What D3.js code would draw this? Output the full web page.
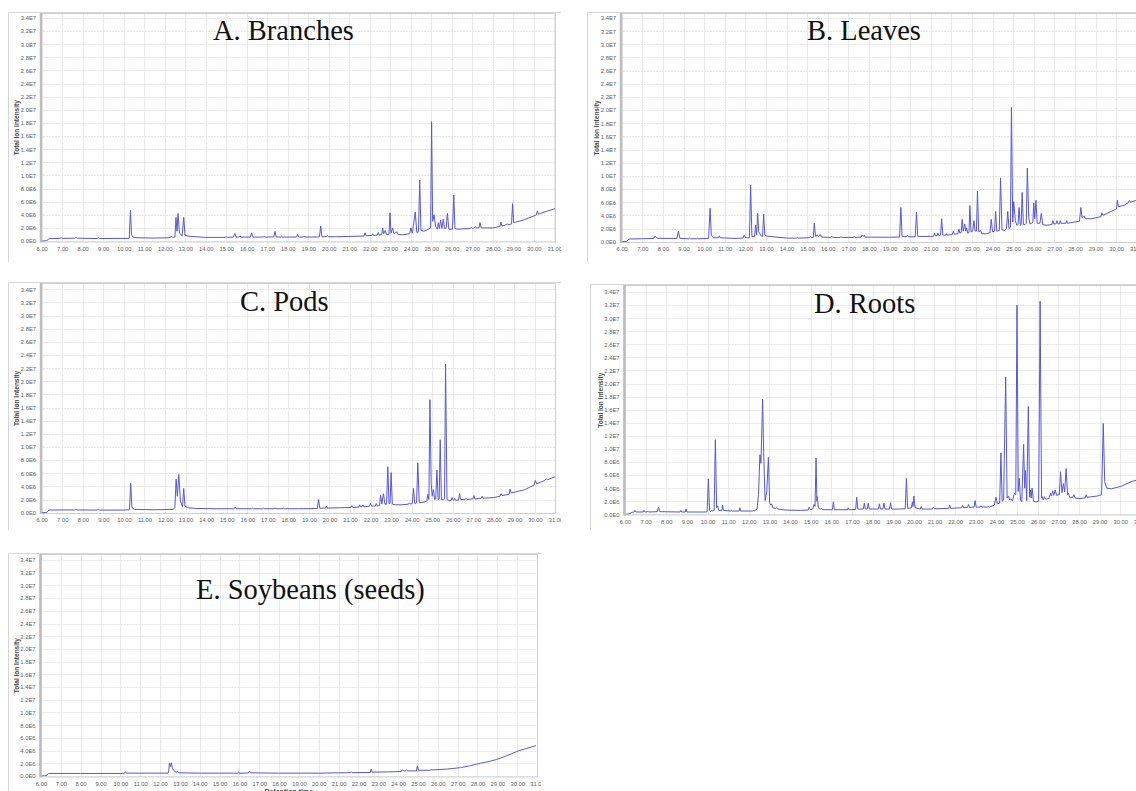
<!DOCTYPE html>
<html>
<head>
<meta charset="utf-8">
<script src="https://cdn.jsdelivr.net/npm/d3@7"></script>
<style>
  body { margin: 0; background: #fff; }
  svg { display: block; }
</style>
</head>
<body>
<div id="container"></div>
<script>
/* DATA: [retention time (min), total ion intensity (x1E6)] */
const titles = ["A. Branches", "B. Leaves", "C. Pods", "D. Roots", "E. Soybeans (seeds)"];
const xTicks = [6, 7, 8, 9, 10, 11, 12, 13, 14, 15, 16, 17, 18, 19, 20, 21, 22, 23, 24, 25, 26, 27, 28, 29, 30, 31];
const yTicks = [0, 2, 4, 6, 8, 10, 12, 14, 16, 18, 20, 22, 24, 26, 28, 30, 32, 34];
const yTitle = "Total Ion Intensity";
const xTitle = "Retention time";

const branches = [[6.0,0],[6.25,0.05],[6.35,0.35],[6.9,0.4],[6.95,0.5],[7.0,0.4],[7.6,0.42],[7.67,0.55],[7.75,0.42],[8.7,0.38],[8.76,0.5],[8.82,0.38],
  [10.27,0.4],[10.33,4.7],[10.38,1.0],[10.45,0.6],[10.6,0.5],[11.5,0.45],[12.25,0.5],[12.32,0.75],[12.38,0.55],[12.5,0.6],[12.55,3.6],[12.6,1.5],[12.65,4.2],[12.72,1.2],[12.85,0.8],[12.93,3.6],[12.99,0.9],[13.1,0.75],[13.5,0.65],[14.0,0.55],
  [14.95,0.55],[15.0,0.65],[15.05,0.55],[15.35,0.6],[15.42,1.15],[15.48,0.6],[15.62,0.6],[15.67,0.8],[15.72,0.6],[16.18,0.6],[16.24,1.25],[16.3,0.6],[16.8,0.6],[16.85,0.7],[16.9,0.6],
  [17.32,0.62],[17.38,1.45],[17.44,0.62],[17.65,0.6],[17.7,0.75],[17.75,0.6],[18.43,0.6],[18.48,1.0],[18.53,0.6],[18.77,0.6],[18.81,0.77],[18.86,0.6],[19.55,0.62],[19.61,2.3],[19.67,0.65],
  [19.88,0.65],[19.93,0.85],[19.98,0.65],[20.32,0.65],[20.36,0.72],[20.4,0.65],[21.0,0.7],[21.72,0.75],[21.77,1.25],[21.82,0.8],[22.1,0.85],[22.15,1.1],[22.2,0.85],[22.38,0.9],[22.42,1.3],[22.46,0.9],
  [22.59,1.0],[22.63,2.0],[22.68,1.1],[22.76,1.6],[22.82,1.0],[22.94,1.0],[22.99,4.3],[23.04,1.2],[23.12,2.0],[23.18,1.1],[23.32,1.4],[23.38,1.0],[23.6,0.95],[23.95,1.1],[24.01,2.0],[24.08,1.2],
  [24.22,4.4],[24.3,1.3],[24.38,1.4],[24.44,9.3],[24.5,1.6],[24.65,1.5],[24.75,1.6],[24.97,2.0],[25.02,18.2],[25.07,3.0],[25.14,4.0],[25.22,2.2],[25.3,1.8],[25.35,2.8],[25.4,1.9],[25.46,3.2],[25.52,1.9],
  [25.59,3.3],[25.65,1.9],[25.73,2.0],[25.79,4.2],[25.86,1.8],[26.04,1.8],[26.1,7.0],[26.16,1.9],[26.3,1.8],[26.9,1.9],[26.95,2.1],[27.0,1.9],[27.1,2.0],[27.15,2.2],[27.2,2.0],[27.33,2.0],[27.38,2.8],[27.44,2.0],
  [28.0,2.0],[28.35,2.2],[28.4,2.9],[28.45,2.3],[28.6,2.4],[28.7,2.6],[28.8,2.5],[28.92,2.6],[28.97,5.7],[29.02,2.8],[29.5,3.2],[30.0,3.8],[30.13,4.0],[30.18,4.6],[30.23,4.1],[30.6,4.5],[31.1,5.0]];

const leaves = [[6.0,0],[6.25,0.05],[6.35,0.4],[7.0,0.45],[7.55,0.5],[7.62,0.87],[7.7,0.55],[8.0,0.5],[8.68,0.5],[8.75,1.6],[8.83,0.5],[9.26,0.45],[9.3,0.55],[9.34,0.45],[9.63,0.45],[9.67,0.55],[9.71,0.45],
  [10.22,0.5],[10.29,5.1],[10.35,1.0],[10.45,0.6],[10.7,0.6],[10.74,0.9],[10.78,0.6],[11.5,0.5],[11.88,0.55],[11.95,1.0],[12.02,0.6],[12.2,0.6],[12.26,8.6],[12.32,0.8],[12.45,0.8],[12.5,2.5],[12.55,1.0],
  [12.6,4.3],[12.65,1.5],[12.7,1.3],[12.75,0.9],[12.84,0.8],[12.89,4.2],[12.95,1.0],[13.05,0.85],[13.5,0.7],[14.0,0.55],[14.48,0.55],[14.52,0.65],[14.56,0.55],[15.12,0.6],[15.17,0.8],[15.22,0.6],
  [15.3,0.65],[15.35,2.8],[15.41,0.8],[15.5,1.0],[15.56,0.75],[15.63,1.1],[15.7,0.7],[16.15,0.65],[16.2,0.8],[16.25,0.65],[16.6,0.65],[16.65,0.75],[16.7,0.65],[17.25,0.65],[17.29,0.8],[17.33,0.65],
  [17.62,0.7],[17.67,1.0],[17.72,0.8],[17.77,1.0],[17.82,0.7],[19.0,0.68],[19.49,0.7],[19.55,5.2],[19.61,0.8],[19.82,0.75],[19.87,1.0],[19.92,0.75],[20.25,0.75],[20.31,4.5],[20.37,0.8],[21.0,0.8],
  [21.15,0.85],[21.19,1.3],[21.23,0.9],[21.31,0.9],[21.35,1.3],[21.4,0.95],[21.48,1.0],[21.53,3.5],[21.59,1.0],[21.72,1.0],[21.76,1.2],[21.8,1.0],[22.05,1.1],[22.1,1.6],[22.15,1.15],[22.32,1.2],[22.37,1.9],
  [22.42,1.3],[22.48,1.4],[22.53,3.4],[22.58,1.6],[22.65,2.7],[22.7,1.6],[22.74,2.1],[22.8,1.3],[22.86,1.4],[22.9,5.5],[22.96,1.5],[23.04,1.6],[23.1,3.2],[23.16,1.6],[23.22,1.6],[23.27,7.7],[23.33,1.5],
  [23.42,1.7],[23.48,1.2],[23.7,1.2],[23.88,1.4],[23.94,3.4],[24.0,1.5],[24.1,1.6],[24.15,4.6],[24.21,1.6],[24.33,1.7],[24.39,9.7],[24.46,1.8],[24.6,1.7],[24.68,2.0],[24.74,4.6],[24.8,2.0],[24.87,2.2],
  [24.92,20.4],[24.98,3.0],[25.03,6.1],[25.11,3.2],[25.18,2.5],[25.24,2.6],[25.29,5.2],[25.35,2.5],[25.39,2.6],[25.44,7.5],[25.5,2.6],[25.58,2.6],[25.64,2.8],[25.69,11.2],[25.76,3.7],[25.82,2.7],
  [25.9,2.8],[25.96,3.0],[26.0,5.9],[26.05,3.5],[26.11,6.3],[26.17,2.8],[26.3,2.8],[26.37,4.3],[26.44,2.6],[26.6,2.5],[26.88,2.6],[26.93,3.2],[26.98,2.7],[27.08,2.7],[27.13,3.2],[27.18,2.7],[27.25,2.7],
  [27.29,3.2],[27.33,2.8],[27.56,2.8],[27.6,3.2],[27.64,2.8],[28.0,3.0],[28.22,3.1],[28.29,5.2],[28.35,3.6],[28.45,3.9],[28.52,3.5],[28.8,3.5],[29.26,3.8],[29.31,4.4],[29.36,4.0],[29.95,4.9],[30.02,5.0],
  [30.06,6.3],[30.11,5.3],[30.45,5.6],[30.52,5.9],[30.56,5.8],[30.65,6.3],[30.7,6.0],[31.0,6.3]];

const pods = [[6.0,0],[6.25,0.05],[6.35,0.4],[7.0,0.42],[7.6,0.42],[7.66,0.55],[7.72,0.42],[8.7,0.4],[8.75,0.48],[8.8,0.4],[10.0,0.4],[10.27,0.45],[10.33,4.5],[10.39,0.8],[10.5,0.5],[11.5,0.45],
  [12.4,0.5],[12.48,0.8],[12.54,5.1],[12.6,2.5],[12.67,5.8],[12.75,1.8],[12.85,0.9],[12.91,3.7],[12.97,1.0],[13.1,0.75],[13.5,0.65],[14.5,0.6],[15.36,0.6],[15.41,0.85],[15.46,0.6],[16.2,0.6],[16.25,0.7],
  [16.3,0.6],[16.75,0.6],[16.8,0.7],[16.85,0.6],[17.3,0.6],[17.35,0.72],[17.4,0.6],[17.7,0.6],[17.75,0.72],[17.8,0.6],[18.5,0.6],[19.0,0.62],[19.41,0.65],[19.47,2.0],[19.53,0.7],[19.8,0.7],[19.85,1.0],
  [19.9,0.7],[20.5,0.75],[21.04,0.8],[21.09,1.1],[21.14,0.8],[21.43,0.85],[21.47,1.2],[21.52,0.9],[21.58,0.9],[21.63,1.2],[21.68,0.9],[21.95,1.0],[22.0,1.4],[22.05,1.0],[22.23,1.0],[22.28,1.4],[22.33,1.0],
  [22.44,1.1],[22.49,2.7],[22.55,1.3],[22.63,2.9],[22.7,1.3],[22.78,1.3],[22.84,7.0],[22.9,1.4],[22.95,1.4],[23.0,6.1],[23.06,1.3],[23.2,1.2],[23.5,1.2],[23.85,1.3],[23.9,1.5],[23.95,1.3],[24.03,1.4],
  [24.09,3.7],[24.15,1.4],[24.24,1.5],[24.3,7.6],[24.37,1.5],[24.6,1.6],[24.74,1.8],[24.79,2.8],[24.84,2.0],[24.89,17.2],[24.95,4.5],[25.0,2.5],[25.06,3.5],[25.12,2.0],[25.17,2.1],[25.23,6.5],[25.29,2.0],
  [25.34,2.1],[25.39,11.1],[25.45,2.0],[25.55,2.0],[25.6,2.1],[25.65,22.6],[25.72,2.0],[25.85,1.8],[25.92,1.9],[25.97,2.3],[26.02,1.9],[26.05,1.9],[26.09,2.2],[26.14,1.9],[26.28,1.9],[26.33,2.9],[26.38,2.0],
  [26.6,2.0],[26.65,2.2],[26.7,2.0],[26.98,2.1],[27.03,2.6],[27.08,2.1],[27.38,2.2],[27.43,2.5],[27.48,2.2],[28.0,2.3],[28.3,2.5],[28.35,2.9],[28.4,2.6],[28.74,2.8],[28.79,3.6],[28.84,3.0],[29.5,3.5],
  [29.95,4.2],[30.02,4.9],[30.08,4.4],[30.48,4.9],[30.54,5.2],[30.6,5.0],[31.0,5.5]];

const roots = [[6.0,0],[6.2,0.05],[6.35,0.3],[6.44,0.35],[6.48,0.6],[6.53,0.35],[6.88,0.35],[6.92,0.6],[6.97,0.35],[7.06,0.35],[7.1,0.5],[7.14,0.35],[7.57,0.4],[7.62,1.1],[7.68,0.4],[8.67,0.35],
  [8.71,0.6],[8.75,0.35],[8.92,0.35],[8.96,0.8],[9.0,0.35],[9.9,0.35],[9.98,0.4],[10.04,5.4],[10.1,0.6],[10.15,0.4],[10.2,0.6],[10.25,0.5],[10.32,0.6],[10.38,11.4],[10.44,1.0],[10.49,1.3],[10.54,0.6],
  [10.69,0.6],[10.73,1.4],[10.77,0.6],[11.13,0.5],[11.17,0.6],[11.21,0.5],[11.53,0.5],[11.57,1.0],[11.61,0.5],[12.18,0.5],[12.22,0.6],[12.26,0.5],[12.4,0.8],[12.47,3.0],[12.54,9.1],[12.59,7.8],
  [12.67,17.6],[12.72,9.6],[12.79,2.1],[12.87,3.4],[12.95,8.7],[13.01,1.7],[13.07,1.4],[13.11,1.6],[13.16,1.0],[13.3,0.9],[13.35,1.0],[13.4,0.8],[13.8,0.65],[14.5,0.6],[14.88,0.65],[14.93,1.1],
  [14.98,0.7],[15.1,0.8],[15.16,1.5],[15.21,1.2],[15.26,8.6],[15.3,2.0],[15.32,2.7],[15.37,1.0],[15.48,0.8],[15.53,0.9],[15.58,0.7],[16.05,0.7],[16.1,1.9],[16.15,0.7],[16.78,0.7],[16.82,1.0],[16.86,0.7],
  [17.18,0.75],[17.23,2.6],[17.28,0.8],[17.55,0.8],[17.6,1.7],[17.65,0.8],[17.74,0.8],[17.79,1.7],[17.84,0.8],[18.28,0.8],[18.33,1.6],[18.38,0.8],[18.5,0.8],[18.55,1.7],[18.6,0.8],[18.82,0.8],[18.87,1.8],
  [18.92,0.8],[19.3,0.8],[19.58,0.85],[19.64,5.5],[19.7,0.9],[19.88,1.0],[19.93,1.9],[19.96,1.2],[20.0,2.8],[20.06,1.0],[20.31,0.8],[20.36,1.2],[20.41,0.8],[20.9,0.8],[20.95,1.1],[21.0,0.85],[21.69,0.9],
  [21.74,1.4],[21.79,0.9],[22.0,0.95],[22.31,1.0],[22.36,1.4],[22.41,1.0],[22.6,1.05],[22.65,1.5],[22.7,1.05],[22.92,1.1],[22.97,2.1],[23.02,1.1],[23.2,1.1],[23.25,1.3],[23.3,1.1],[23.56,1.1],[23.61,1.2],
  [23.66,1.1],[23.9,1.4],[23.98,2.6],[24.05,1.6],[24.16,1.7],[24.22,9.4],[24.28,2.0],[24.35,2.2],[24.45,21.0],[24.52,2.5],[24.59,2.8],[24.64,2.2],[24.7,2.4],[24.78,2.0],[24.87,3.2],[24.94,3.0],[25.0,32.0],
  [25.06,3.5],[25.11,5.5],[25.17,2.2],[25.23,1.9],[25.32,10.7],[25.37,4.0],[25.41,6.7],[25.47,2.1],[25.55,16.5],[25.61,2.6],[25.65,3.7],[25.69,2.5],[25.73,4.0],[25.8,2.0],[25.92,1.9],[26.05,2.0],
  [26.12,32.6],[26.19,2.5],[26.22,2.7],[26.27,2.2],[26.33,2.7],[26.39,2.3],[26.55,2.4],[26.62,3.2],[26.67,2.8],[26.73,3.6],[26.78,2.9],[26.85,3.7],[26.92,2.9],[27.05,3.0],[27.11,6.5],[27.18,3.3],
  [27.25,4.7],[27.31,3.4],[27.38,7.0],[27.45,3.0],[27.5,3.2],[27.55,2.6],[27.7,2.6],[27.76,3.0],[27.82,2.5],[28.0,2.4],[28.3,2.5],[28.35,3.0],[28.4,2.6],[28.9,2.8],[29.1,3.0],[29.18,13.9],[29.25,5.0],
  [29.35,4.0],[29.57,3.9],[30.06,4.3],[30.54,5.0],[31.0,5.4]];

const soybeans = [[6.0,0],[6.25,0.05],[6.38,0.4],[8.0,0.4],[10.0,0.4],[10.2,0.42],[10.25,0.65],[10.32,0.45],[12.4,0.45],[12.44,0.8],[12.47,2.0],[12.52,1.5],[12.57,2.1],[12.62,1.3],[12.68,0.9],
  [12.8,0.6],[12.85,0.6],[12.89,0.7],[12.95,0.5],[14.0,0.45],[15.9,0.45],[15.96,0.6],[16.02,0.45],[16.45,0.47],[16.51,0.75],[16.58,0.5],[18.0,0.45],[20.0,0.45],[21.0,0.5],[21.6,0.52],[21.64,0.65],
  [21.68,0.53],[22.6,0.55],[22.64,1.1],[22.69,0.6],[23.5,0.65],[24.15,0.7],[24.22,1.0],[24.3,0.75],[24.38,0.8],[24.42,1.0],[24.48,0.8],[24.92,0.8],[24.97,1.6],[25.03,0.9],[25.6,0.9],[25.66,1.0],
  [25.72,0.95],[26.5,1.1],[27.1,1.3],[27.15,1.4],[27.2,1.35],[27.6,1.6],[28.14,2.0],[28.6,2.3],[28.97,2.6],[29.4,3.1],[29.79,3.6],[30.1,4.0],[30.45,4.3],[30.75,4.6],[30.95,4.8]];

const series = [branches, leaves, pods, roots, soybeans];

/* LAYOUT (pixel boxes of each panel on the page) */
const panels = [
  { frame: [8, 12, 561, 262],   plot: [40, 13, 556, 242.5],   xr: [41.7, 554.2], yr: [241, 18],    title: [213, 40] },
  { frame: [587, 12, 1150, 262], plot: [620, 13, 1145, 243],  xr: [621.7, 1136.7], yr: [241.7, 18], title: [807, 40] },
  { frame: [8, 282, 561, 530],  plot: [40, 283, 556, 514],    xr: [41.7, 555.5], yr: [512.7, 289.3], title: [240, 311] },
  { frame: [590, 284, 1150, 530], plot: [623.5, 285, 1145, 515.5], xr: [625, 1140.8], yr: [514.3, 292], title: [814, 313] },
  { frame: [8, 553, 541, 800],  plot: [39.5, 554, 538, 777.5], xr: [41, 537], yr: [776, 560], title: [196, 599] }
];

const lineColor = "#5656e0";

const fmtY = v => v === 0 ? "0.0E0" : v < 10 ? v.toFixed(1) + "E6" : (v / 10).toFixed(1) + "E7";

const svg = d3.select("#container").append("svg")
  .attr("width", 1136)
  .attr("height", 791)
  .style("font-family", "'Liberation Sans', Arial, sans-serif");

const defs = svg.append("defs");

panels.forEach((p, i) => {
  const [fx0, fy0, fx1, fy1] = p.frame;
  const [px0, py0, px1, py1] = p.plot;

  defs.append("clipPath").attr("id", "frame" + i)
    .append("rect").attr("x", fx0).attr("y", fy0).attr("width", fx1 - fx0).attr("height", fy1 - fy0);
  defs.append("clipPath").attr("id", "plot" + i)
    .append("rect").attr("x", px0).attr("y", py0).attr("width", px1 - px0).attr("height", py1 - py0);

  const x = d3.scaleLinear().domain([6, 31]).range(p.xr);
  const y = d3.scaleLinear().domain([0, 34e6]).range(p.yr);

  const g = svg.append("g").attr("clip-path", `url(#frame${i})`);

  // outer frame (top + left edges only, the rest is cropped in the figure)
  g.append("path")
    .attr("d", `M${fx0 + 0.5},${fy1}V${fy0 + 0.5}H${fx1}`)
    .attr("fill", "none").attr("stroke", "#d6d6d6");

  // plot background + grid
  g.append("rect")
    .attr("x", px0).attr("y", py0).attr("width", px1 - px0).attr("height", py1 - py0)
    .attr("fill", "#fff");

  const grid = g.append("g").attr("clip-path", `url(#plot${i})`);
  grid.selectAll("line.vgrid")
    .data(xTicks)
    .join("line")
    .attr("class", "vgrid")
    .attr("x1", d => Math.round(x(d)) + 0.5).attr("x2", d => Math.round(x(d)) + 0.5)
    .attr("y1", py0).attr("y2", py1)
    .attr("stroke", "#eaeaea");
  grid.selectAll("line.hgrid")
    .data(yTicks)
    .join("line")
    .attr("class", "hgrid")
    .attr("x1", px0).attr("x2", px1)
    .attr("y1", d => Math.round(y(d * 1e6)) + 0.5).attr("y2", d => Math.round(y(d * 1e6)) + 0.5)
    .attr("stroke", "#e4e4e4")
    .attr("stroke-dasharray", "2,1");

  // chromatogram trace
  const line = d3.line()
    .x(d => x(d[0]))
    .y(d => y(d[1] * 1e6));

  grid.append("path")
    .datum(series[i])
    .attr("d", line)
    .attr("fill", "none")
    .attr("stroke", lineColor)
    .attr("stroke-width", 1)
    .attr("stroke-linejoin", "round");

  // plot border
  g.append("rect")
    .attr("x", px0 + 0.5).attr("y", py0 + 0.5).attr("width", px1 - px0 - 1).attr("height", py1 - py0 - 1)
    .attr("fill", "none").attr("stroke", "#cfcfcf");
  g.append("line")
    .attr("x1", px0 + 1).attr("x2", px0 + 1).attr("y1", py0).attr("y2", py1)
    .attr("stroke", "#bdbdbd").attr("stroke-width", 2.5);

  // y axis
  const yAxis = d3.axisLeft(y)
    .tickValues(yTicks.map(d => d * 1e6))
    .tickFormat(d => fmtY(d / 1e6))
    .tickSize(0)
    .tickPadding(4);
  const ya = g.append("g").attr("transform", `translate(${px0},0)`).call(yAxis);
  ya.select(".domain").remove();
  ya.selectAll("text").attr("font-size", 5.8).attr("fill", "#5e5e5e").style("font-family", "'Liberation Sans', Arial, sans-serif");

  // x axis
  const xAxis = d3.axisBottom(x)
    .tickValues(xTicks)
    .tickFormat(d3.format(".2f"))
    .tickSize(0)
    .tickPadding(4);
  const xa = g.append("g").attr("transform", `translate(0,${py1})`).call(xAxis);
  xa.select(".domain").remove();
  xa.selectAll("text").attr("font-size", 5.8).attr("fill", "#5e5e5e").style("font-family", "'Liberation Sans', Arial, sans-serif");

  // axis titles
  g.append("text")
    .attr("transform", `translate(${px0 - 21},${(py0 + py1) / 2}) rotate(-90)`)
    .attr("text-anchor", "middle")
    .attr("font-size", 6.5)
    .attr("font-weight", "bold")
    .attr("fill", "#444")
    .text(yTitle);

  if (i === 4) {
    // cropped at the bottom edge in the figure
    g.append("text")
      .attr("x", (px0 + px1) / 2)
      .attr("y", py1 + 16)
      .attr("text-anchor", "middle")
      .attr("font-size", 7)
      .attr("font-weight", "bold")
      .attr("fill", "#444")
      .text(xTitle);
  }

  // panel title
  svg.append("text")
    .attr("x", p.title[0])
    .attr("y", p.title[1])
    .attr("font-family", "'Liberation Serif', 'Times New Roman', serif")
    .attr("font-size", 28.5)
    .attr("fill", "#111")
    .text(titles[i]);
});
</script>
</body>
</html>
